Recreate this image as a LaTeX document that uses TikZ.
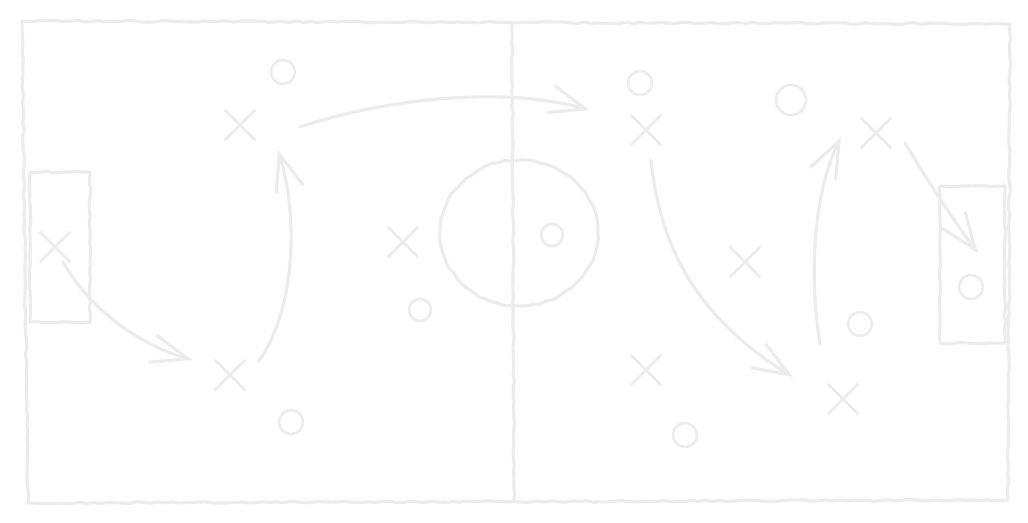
\documentclass[tikz,border=0pt]{standalone}
\usepackage{tikz}
\definecolor{chalk}{RGB}{236,236,236}
\usetikzlibrary{arrows.meta,shapes.misc,decorations.pathmorphing}

\begin{document}
\begin{tikzpicture}[x=0.025cm,y=-0.025cm,
  line/.style={draw=chalk,line width=2.2pt,line cap=round,line join=round},
  rough/.style={line,decorate,decoration={random steps,segment length=5pt,amplitude=0.6pt}},
  crossmark/.style={cross out,draw=chalk,line width=1.8pt,minimum size=0.7cm,inner sep=0pt},
  ringmark/.style={circle,draw=chalk,line width=1.8pt,minimum size=0.6cm,inner sep=0pt},
  run/.style={line,-{Straight Barb[length=26pt,width=20pt]}}]
  \fill[white] (0,0) rectangle (1028,522);
  \useasboundingbox (0,0) rectangle (1028,522);
  % Field
  \draw[rough] (22,21) -- (1010,24) -- (1008,500) -- (28,503) -- cycle;
  \draw[rough] (512,22) -- (514,500);
  \draw[rough] (519,233) circle [x radius=1.97cm, y radius=1.82cm];
  \draw[rough] (30,172) rectangle (90,322);
  \draw[rough] (940,186) rectangle (1005,343);
  % Players (o)
  \node[ringmark] (o1) at (283,72) {};
  \node[ringmark] (o2) at (640,83) {};
  \node[ringmark,minimum size=0.75cm] (o3) at (791,100) {};
  \node[ringmark,minimum size=0.55cm] (o4) at (552,235) {};
  \node[ringmark,minimum size=0.55cm] (o5) at (420,310) {};
  \node[ringmark] (o6) at (291,422) {};
  \node[ringmark] (o7) at (685,435) {};
  \node[ringmark] (o8) at (860,324) {};
  \node[ringmark] (o9) at (971,287) {};
  % Players (x)
  \node[crossmark] (x1) at (240,125) {};
  \node[crossmark] (x2) at (55,247) {};
  \node[crossmark] (x3) at (403,242) {};
  \node[crossmark] (x4) at (230,375) {};
  \node[crossmark] (x5) at (646,130) {};
  \node[crossmark] (x6) at (876,133) {};
  \node[crossmark] (x7) at (745,262) {};
  \node[crossmark] (x8) at (646,370) {};
  \node[crossmark] (x9) at (843,399) {};
  % Runs and passes
  \coordinate (r1s) at (63,262);   \coordinate (r1e) at (192,360);
  \coordinate (r2s) at (258,362);  \coordinate (r2e) at (278,150);
  \coordinate (r3s) at (300,127);  \coordinate (r3e) at (590,110);
  \coordinate (r4s) at (651,160);  \coordinate (r4e) at (793,377);
  \coordinate (r5s) at (820,344);  \coordinate (r5e) at (841,137);
  \coordinate (r6s) at (905,143);  \coordinate (r6e) at (978,253);
  \draw[run] (r1s) .. controls (90,310) and (140,345) .. (r1e);
  \draw[run] (r2s) .. controls (290,320) and (302,230) .. (r2e);
  \draw[run] (r3s) .. controls (380,100) and (500,85) .. (r3e);
  \draw[run] (r4s) .. controls (660,250) and (700,320) .. (r4e);
  \draw[run] (r5s) .. controls (808,270) and (815,190) .. (r5e);
  \draw[run] (r6s) .. controls (930,185) and (950,215) .. (r6e);
\end{tikzpicture}
\end{document}
